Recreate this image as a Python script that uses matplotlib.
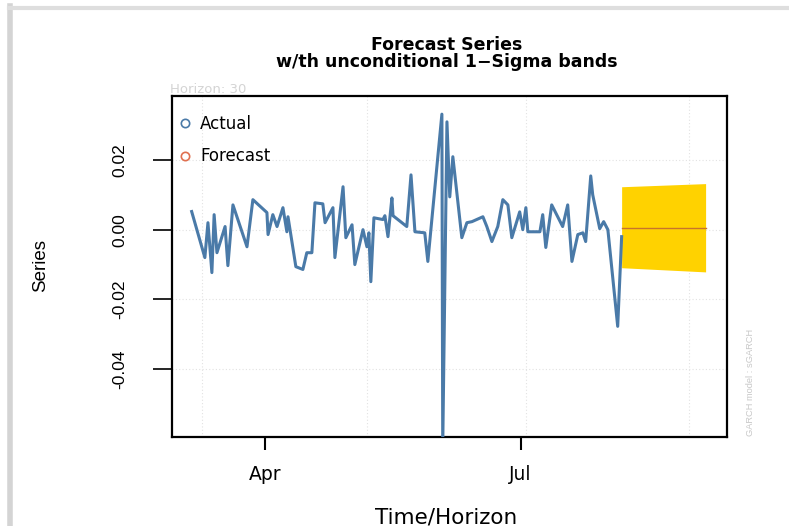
import matplotlib
matplotlib.use("Agg")
import matplotlib.pyplot as plt
import matplotlib.dates as mdates
from matplotlib.lines import Line2D
import pandas as pd

plt.rcParams['font.family'] = ['Liberation Sans', 'DejaVu Sans']
WIDE = ['DejaVu Sans']   # the reference text is stretched sideways, DejaVu is the widest we have

# actual series: days after 1 April, and the return value
actual_days = [-26.1, -21.4, -20.3, -18.9, -18.1, -17.1, -14.2, -13.2, -11.4, -6.4,
               -4.3, 0.7, 1.1, 2.8, 4.3, 6.4, 7.8, 8.2, 11.0, 13.5,
               14.9, 16.7, 17.8, 20.6, 21.4, 24.2, 24.9, 27.8, 28.8, 31.0,
               32.0, 34.9, 36.3, 37.0, 37.7, 38.8, 42.0, 42.7, 43.8, 45.2,
               45.6, 50.5, 52.0, 53.4, 56.9, 58.0, 63.0, 63.3, 64.8, 65.8,
               66.9, 70.1, 71.9, 73.7, 77.6, 79.0, 80.8, 82.9, 84.7, 86.5,
               87.9, 90.7, 91.8, 92.9, 93.6, 97.9, 98.9, 100.0, 102.1, 106.0,
               107.8, 109.3, 111.4, 113.2, 114.2, 116.0, 116.7, 119.2, 120.6, 122.1,
               125.6, 127.0]
actual_vals = [0.0052, -0.0080, 0.0020, -0.0123, 0.0043, -0.0066, 0.0009, -0.0103, 0.0071, -0.0049,
               0.0086, 0.0049, -0.0014, 0.0043, 0.0009, 0.0063, -0.0006, 0.0037, -0.0106, -0.0114,
               -0.0066, -0.0066, 0.0077, 0.0074, 0.0020, 0.0063, -0.0080, 0.0123, -0.0023, 0.0014,
               -0.0100, 0.0000, -0.0049, -0.0009, -0.0149, 0.0034, 0.0029, 0.0040, -0.0020, 0.0091,
               0.0040, 0.0009, 0.0157, -0.0006, -0.0009, -0.0091, 0.0331, -0.0620, 0.0309, 0.0094,
               0.0209, -0.0023, 0.0020, 0.0023, 0.0037, 0.0009, -0.0034, 0.0009, 0.0086, 0.0071,
               -0.0023, 0.0051, 0.0000, 0.0063, -0.0006, -0.0006, 0.0043, -0.0051, 0.0071, 0.0009,
               0.0071, -0.0091, -0.0014, -0.0009, -0.0034, 0.0154, 0.0100, 0.0003, 0.0023, 0.0000,
               -0.0277, -0.0020]

# 30 step forecast with unconditional 1-sigma bands
fc_days = [127.0, 156.9]
fc_mean = [0.0006, 0.0006]
fc_upper = [0.0123, 0.0132]
fc_lower = [-0.0109, -0.0121]

y_ticks = [-0.04, -0.02, 0.00, 0.02]
grid_days = [-22.4, 36.3, 93.0, 151.0]

base = pd.Timestamp("2020-04-01")
def to_dates(days):
    return base + pd.to_timedelta(days, unit="D")

fig = plt.figure(figsize=(7.89, 5.26), dpi=100)
ax = fig.add_axes([0.218, 0.1692, 0.703, 0.6483])

# faint grid
for yv in y_ticks:
    ax.axhline(yv, color="#e2e2e2", lw=0.8, ls=(0, (1, 2)), zorder=0)
for gd in to_dates(grid_days):
    ax.axvline(gd, color="#e2e2e2", lw=0.8, ls=(0, (1, 2)), zorder=0)

ax.plot(to_dates(actual_days), actual_vals, color="#4a7aa8", lw=2.2, zorder=3)
ax.fill_between(to_dates(fc_days), fc_lower, fc_upper, color="#ffd200", lw=0, zorder=2)
ax.plot(to_dates(fc_days), fc_mean, color="#c8742a", lw=1.0, zorder=4)

ax.set_xlim(to_dates([-33.1])[0], to_dates([164.4])[0])
ax.set_ylim(-0.0594, 0.0383)

ax.xaxis.set_major_locator(mdates.MonthLocator(bymonth=[4, 7]))
ax.xaxis.set_major_formatter(mdates.DateFormatter("%b"))
ax.set_yticks(y_ticks)
ax.set_yticklabels(["-0.04", "-0.02", "0.00", "0.02"], rotation=90, va="center")
ax.tick_params(axis="x", length=9, width=1.5, pad=11)
ax.tick_params(axis="y", length=14, width=1.2, pad=18, labelsize=12.5)
for lab in ax.get_xticklabels():
    lab.set_family(WIDE)
    lab.set_fontsize(13.5)
for sp in ax.spines.values():
    sp.set_linewidth(1.6)

# legend as in R: open circles, no box
ax.plot([], [], ls="none", marker="o", mfc="none", mec="#4a7aa8", ms=6, mew=1.2, label="Actual")
ax.plot([], [], ls="none", marker="o", mfc="none", mec="#e07050", ms=6, mew=1.2, label="Forecast")
ax.legend(loc="upper left", bbox_to_anchor=(0.0, 0.963), frameon=False,
          prop={"family": WIDE, "size": 12}, handletextpad=0.5,
          labelspacing=0.85, borderaxespad=0.0, handlelength=0.8)

fig.text(0.566, 0.915, "Forecast Series", ha="center", va="center",
         fontsize=12.5, fontweight="bold", family=WIDE)
fig.text(0.566, 0.882, "w/th unconditional 1\u2212Sigma bands", ha="center", va="center",
         fontsize=12.5, fontweight="bold", family=WIDE)
fig.text(0.216, 0.829, "Horizon: 30", ha="left", va="center", fontsize=9.5,
         color="#d4d4d4", family=WIDE)
fig.text(0.951, 0.272, "GARCH model : sGARCH", rotation=90, ha="center", va="center",
         fontsize=6.7, color="#c8c8c8")
fig.text(0.566, 0.017, "Time/Horizon", ha="center", va="center", fontsize=15.5, family=WIDE)
fig.text(0.051, 0.496, "Series", rotation=90, ha="center", va="center", fontsize=13.5)

# light gray page border on the left and top
fig.add_artist(Line2D([0.0133, 0.0133], [0.0, 0.988], color="#d4d4d4", lw=4))
fig.add_artist(Line2D([0.0108, 1.0], [0.985, 0.985], color="#dedede", lw=3))

fig.savefig("out.png", dpi=100)
